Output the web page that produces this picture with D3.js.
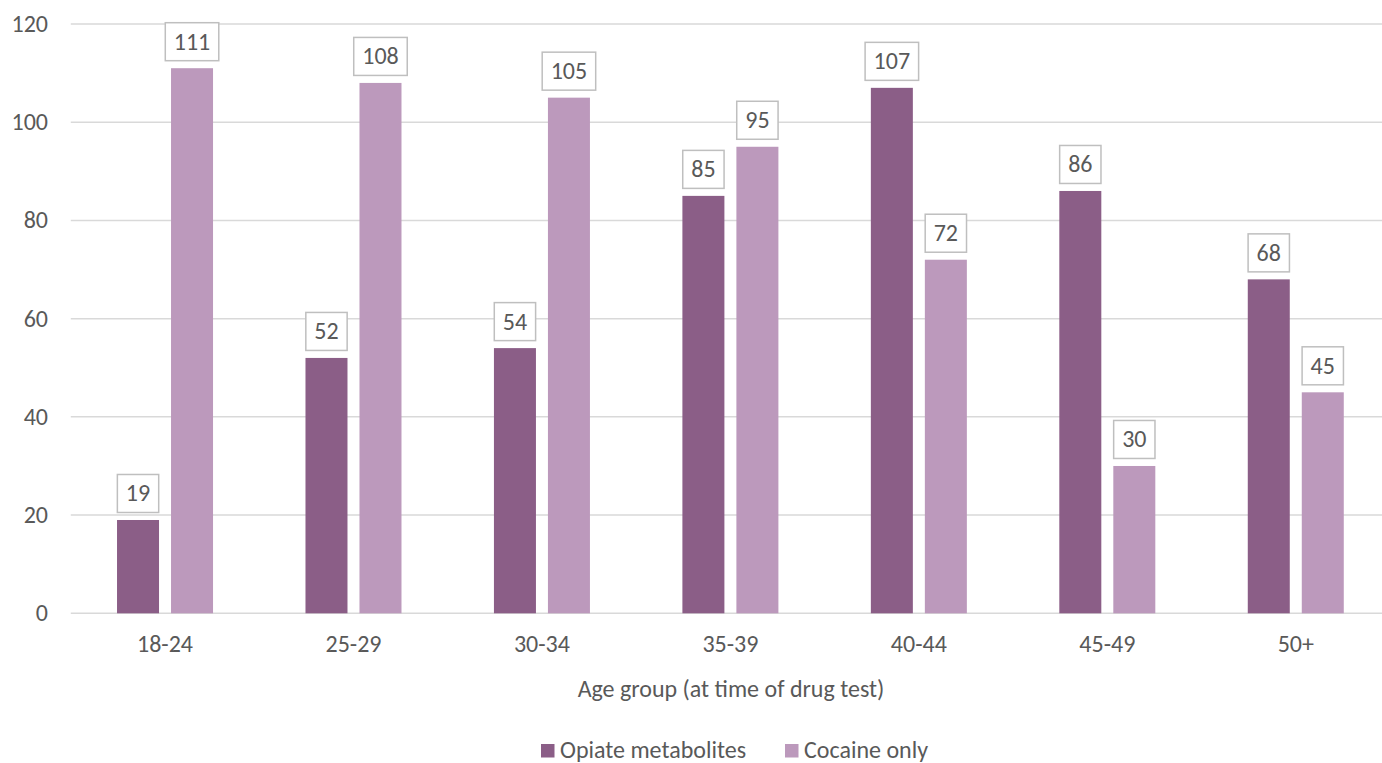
<!DOCTYPE html>
<html>
<head>
<meta charset="utf-8">
<script src="https://cdn.jsdelivr.net/npm/d3@7"></script>
<style>
  html, body { margin: 0; padding: 0; background: #fff; }
  svg { display: block; font-family: Carlito, Calibri, "Open Sans", sans-serif; }
</style>
</head>
<body>
<svg id="chart" width="1382" height="763"></svg>
<script>
// Age groups and test counts per group
const ageGroups = ["18-24", "25-29", "30-34", "35-39", "40-44", "45-49", "50+"];
const opiateMetabolites = [19, 52, 54, 85, 107, 86, 68];
const cocaineOnly = [111, 108, 105, 95, 72, 30, 45];
const yTicks = [0, 20, 40, 60, 80, 100, 120];
const seriesNames = ["Opiate metabolites", "Cocaine only"];
const seriesColors = ["#8b5e87", "#bc99bc"];

const series = [opiateMetabolites, cocaineOnly];
const svg = d3.select("#chart");
const W = 1382;
const plot = { left: 70.8, right: 1390, top: 24, bottom: 613.3 };
const textColor = "#595959";
const fontSize = 24;

const x = d3.scaleBand().domain(ageGroups).range([plot.left, plot.right]).paddingInner(0).paddingOuter(0);
const barW = 42, barGap = 12;
const y = d3.scaleLinear().domain([0, 120]).range([plot.bottom, plot.top]);

// Horizontal gridlines
svg.append("g").selectAll("line").data(yTicks).join("line")
  .attr("x1", plot.left).attr("x2", W)
  .attr("y1", d => y(d)).attr("y2", d => y(d))
  .attr("stroke", "#d9d9d9").attr("stroke-width", 1.5);

// Y axis labels
svg.append("g").selectAll("text").data(yTicks).join("text")
  .attr("x", 48).attr("y", d => y(d)).attr("dy", "0.33em")
  .attr("text-anchor", "end").attr("fill", textColor)
  .style("font-size", fontSize + "px").text(d => d);

// Bars
const groupW = barW * 2 + barGap;
const barX = (cat, s) => x(cat) + x.bandwidth() / 2 - groupW / 2 + s * (barW + barGap);

series.forEach((vals, s) => {
  svg.append("g").selectAll("rect").data(vals).join("rect")
    .attr("x", (d, i) => barX(ageGroups[i], s))
    .attr("y", d => y(d))
    .attr("width", barW)
    .attr("height", d => y(0) - y(d))
    .attr("fill", seriesColors[s]);
});

// Value labels in outlined boxes
series.forEach((vals, s) => {
  vals.forEach((v, i) => {
    const cx = barX(ageGroups[i], s) + barW / 2;
    const boxH = 38;
    const boxBottom = y(v) - 7.5;
    const g = svg.append("g");
    const rect = g.append("rect");
    const t = g.append("text")
      .attr("x", cx).attr("y", boxBottom - boxH / 2).attr("dy", "0.33em")
      .attr("text-anchor", "middle").attr("fill", textColor)
      .style("font-size", fontSize + "px").text(v);
    const tw = t.node().getComputedTextLength();
    const bw = tw + 17;
    rect.attr("x", cx - bw / 2).attr("y", boxBottom - boxH)
      .attr("width", bw).attr("height", boxH)
      .attr("fill", "#fff").attr("stroke", "#bfbfbf").attr("stroke-width", 1.5);
  });
});

// Category labels
svg.append("g").selectAll("text").data(ageGroups).join("text")
  .attr("x", d => x(d) + x.bandwidth() / 2).attr("y", 652)
  .attr("text-anchor", "middle").attr("fill", textColor)
  .style("font-size", fontSize + "px").text(d => d);

// Axis title
svg.append("text")
  .attr("x", 731).attr("y", 697)
  .attr("text-anchor", "middle").attr("fill", textColor)
  .style("font-size", fontSize + "px").text("Age group (at time of drug test)");

// Legend
const legendX = [541, 785];
seriesNames.forEach((name, s) => {
  svg.append("rect").attr("x", legendX[s]).attr("y", 744)
    .attr("width", 13.5).attr("height", 13.5).attr("fill", seriesColors[s]);
  svg.append("text").attr("x", legendX[s] + 19).attr("y", 757.5)
    .attr("fill", textColor).style("font-size", fontSize + "px").text(name);
});
</script>
</body>
</html>
